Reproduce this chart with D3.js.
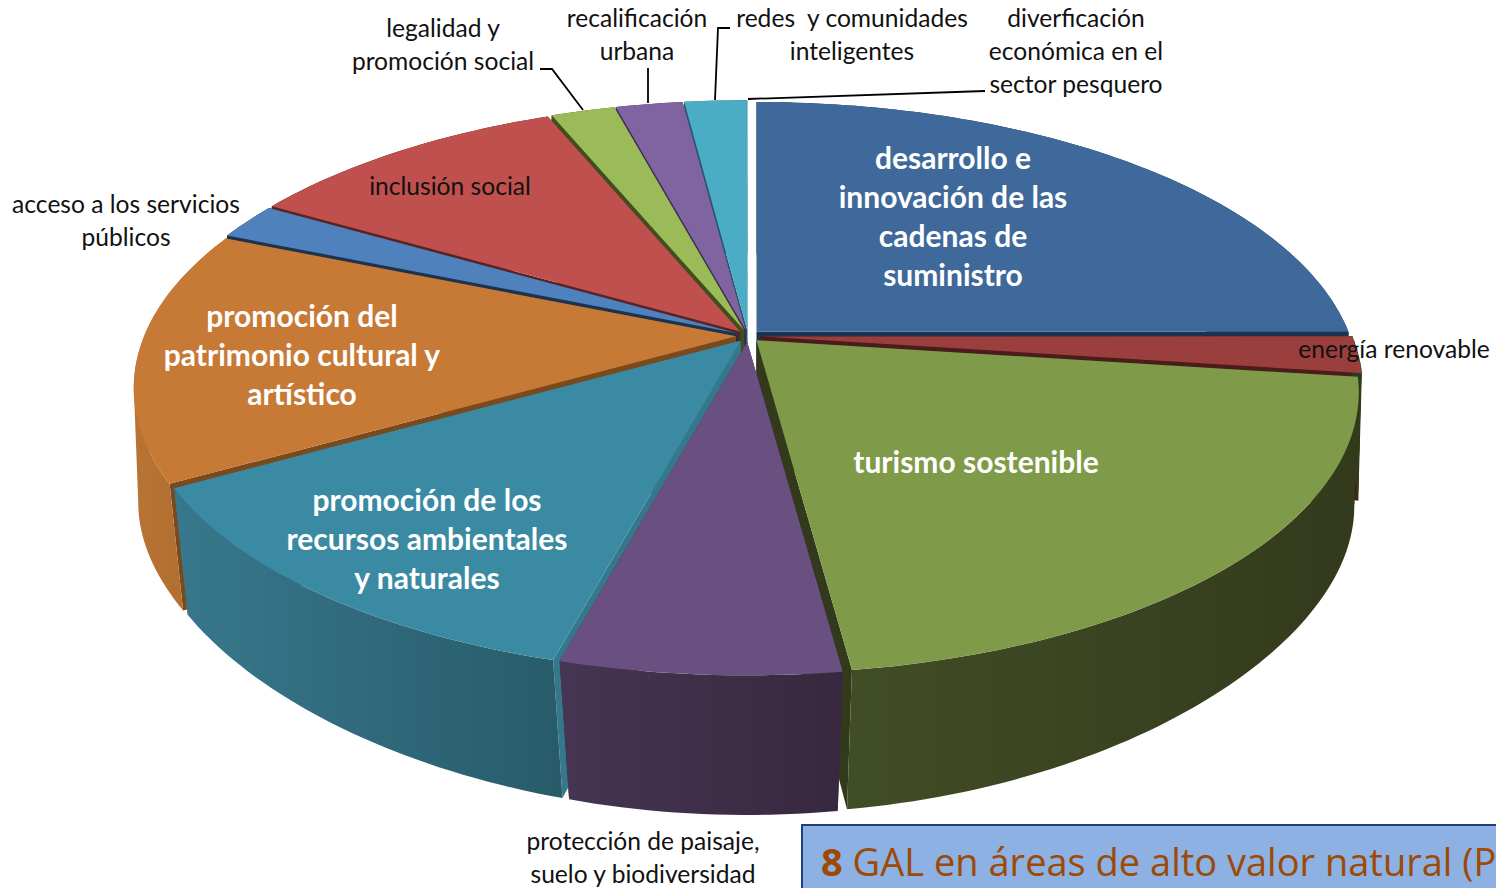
<!DOCTYPE html>
<html lang="es">
<head>
<meta charset="utf-8">
<title>GAL</title>
<script src="https://d3js.org/d3.v7.min.js"></script>
<style>
html, body { margin: 0; padding: 0; background: white; overflow: hidden; }
svg { display: block; }
text { font-family: Lato, sans-serif; }
</style>
</head>
<body>
<svg width="1496" height="888"></svg>
<script>
// clockwise from the top
const categories = [
  "desarrollo e innovación de las cadenas de suministro",
  "energía renovable",
  "turismo sostenible",
  "protección de paisaje, suelo y biodiversidad",
  "promoción de los recursos ambientales y naturales",
  "promoción del patrimonio cultural y artístico",
  "acceso a los servicios públicos",
  "inclusión social",
  "legalidad y promoción social",
  "recalificación urbana",
  "redes y comunidades inteligentes",
  "diverficación económica en el sector pesquero"
];
const values = [25, 2.1, 20.8, 6.3, 12.6, 14.5, 2.1, 10.4, 2.05, 2.15, 2, 0.01];

const topColors = ["#3f699a", "#9a3f3e", "#7f9a48", "#6a5081", "#3b8aa3", "#c77936",
                   "#4f81bd", "#c0504d", "#9bbb59", "#8064a2", "#4bacc6", "#4bacc6"];
const wallColors = ["#1c3350", "#4a1c1c", "#333a1c", "#3a2b47", "#35788c", "#7a4a1d",
                    "#1c3350", "#5c2220", "#3f4f1e", "#3a2b50", "#1f5a6b", "#1f5a6b"];
const sideLeft = ["#1c3350", "#333a1c", "#414d26", "#463553", "#38788c", "#b87433",
                  "#1c3350", "#5c2220", "#3f4f1e", "#3a2b50", "#1f5a6b", "#1f5a6b"];
const sideRight = ["#1c3350", "#333a1c", "#333a1c", "#37283f", "#285c6b", "#ac6a30",
                   "#1c3350", "#5c2220", "#3f4f1e", "#3a2b50", "#1f5a6b", "#1f5a6b"];

const blackLabels = [
  { lines: ["legalidad y", "promoción social"], x: 443, y: 37 },
  { lines: ["recalificación", "urbana"], x: 637, y: 27 },
  { lines: ["redes  y comunidades", "inteligentes"], x: 852, y: 27 },
  { lines: ["diverficación", "económica en el", "sector pesquero"], x: 1076, y: 27 },
  { lines: ["acceso a los servicios", "públicos"], x: 126, y: 213 },
  { lines: ["inclusión social"], x: 450, y: 195 },
  { lines: ["energía renovable"], x: 1394, y: 358 },
  { lines: ["protección de paisaje,", "suelo y biodiversidad"], x: 643, y: 850 }
];
const whiteLabels = [
  { lines: ["desarrollo e", "innovación de las", "cadenas de", "suministro"], x: 953, y: 169 },
  { lines: ["turismo sostenible"], x: 976, y: 473 },
  { lines: ["promoción de los", "recursos ambientales", "y naturales"], x: 427, y: 511 },
  { lines: ["promoción del", "patrimonio cultural y", "artístico"], x: 302, y: 327 }
];
const leaders = [
  [[540, 69], [552, 69], [583, 110]],
  [[648, 68], [648, 103]],
  [[730, 28], [718, 28], [715, 100]],
  [[985, 91], [748, 99]]
];

const svg = d3.select("svg");
const defs = svg.append("defs");

// top disc and bottom disc of the pie, in perspective
const cx = 748, cy = 336;
const R = 592, H = 272, k = 0.184;
const cyBottom = 465, hBottom = 258, kBottomY = 0.25, kBottomX = 0.139;
const explodeX = 12, explodeY = 6;

function project(theta, r, mid, bottom) {
  const u = r * Math.sin(theta), v = r * Math.cos(theta);
  const ox = explodeX * Math.sin(mid), oy = -explodeY * Math.cos(mid);
  if (bottom) {
    return [cx + R * u / (1 + kBottomX * v) + ox,
            cyBottom - hBottom * v / (1 + kBottomY * v) + oy];
  }
  const w = 1 + k * v;
  return [cx + R * u / w + ox, cy - H * v / w + oy];
}

const arcs = d3.pie().sort(null).value(d => d)(values).map((a, i) => {
  a.index = i;
  a.mid = (a.startAngle + a.endAngle) / 2;
  return a;
});

const line = d3.line();

function rim(a, bottom) {
  const n = Math.max(2, Math.ceil((a.endAngle - a.startAngle) / 0.02));
  return d3.range(n + 1).map(j => {
    const t = a.startAngle + (a.endAngle - a.startAngle) * j / n;
    return project(t, 1, a.mid, bottom);
  });
}

// back to front so the nearer slices cover the farther ones
const order = arcs.slice().sort((p, q) => Math.cos(q.mid) - Math.cos(p.mid));

const slices = svg.selectAll("g.slice").data(order).join("g").attr("class", "slice");

slices.each(function (a) {
  const g = d3.select(this);
  const i = a.index;
  const topRim = rim(a, false), botRim = rim(a, true);
  const apexT = project(0, 0, a.mid, false), apexB = project(0, 0, a.mid, true);

  // radial walls
  [0, topRim.length - 1].forEach(e => {
    g.append("path")
      .attr("d", line([apexT, topRim[e], botRim[e], apexB]) + "Z")
      .attr("fill", wallColors[i]);
  });

  // outer wall, one quad per step so the silhouette is filled
  const gradId = "side" + i;
  const xs = topRim.map(p => p[0]);
  const grad = defs.append("linearGradient").attr("id", gradId)
    .attr("gradientUnits", "userSpaceOnUse")
    .attr("x1", d3.min(xs)).attr("x2", d3.max(xs)).attr("y1", 0).attr("y2", 0);
  grad.append("stop").attr("offset", 0).attr("stop-color", sideLeft[i]);
  grad.append("stop").attr("offset", 1).attr("stop-color", sideRight[i]);
  const quads = d3.range(topRim.length - 1).map(j => {
    const q = [topRim[j], topRim[j + 1], botRim[j + 1], botRim[j]];
    // same winding for all, or overlapping quads cancel out
    if (d3.polygonArea(q) < 0) q.reverse();
    return line(q) + "Z";
  }).join("");
  const side = g.append("path")
    .attr("d", quads)
    .attr("fill", "url(#" + gradId + ")");
  // the red wall of the thin right slice would show through at the edge
  if (i === 1) side.attr("stroke", sideRight[i]).attr("stroke-width", 1);

  // top face
  g.append("path")
    .attr("d", line([apexT].concat(topRim)) + "Z")
    .attr("fill", topColors[i])
    .append("title").text(categories[i]);
});

svg.selectAll("path.leader").data(leaders).join("path")
  .attr("class", "leader")
  .attr("d", d => line(d))
  .attr("fill", "none")
  .attr("stroke", "#000")
  .attr("stroke-width", 1.8);

function drawLabels(list, size, lead, color, weight) {
  list.forEach(l => {
    l.lines.forEach((t, j) => {
      svg.append("text")
        .attr("x", l.x)
        .attr("y", l.y + j * lead)
        .attr("text-anchor", "middle")
        .attr("font-size", size)
        .attr("font-weight", weight)
        .attr("fill", color)
        .style("white-space", "pre")
        .text(t);
    });
  });
}
drawLabels(blackLabels, 24.6, 33, "#111", 400);
drawLabels(whiteLabels, 30, 39, "#fff", 700);

// caption box, runs off the page
svg.append("rect")
  .attr("x", 802).attr("y", 825)
  .attr("width", 720).attr("height", 90)
  .attr("fill", "#8db1e2")
  .attr("stroke", "#1f3f80")
  .attr("stroke-width", 2);

const caption = svg.append("text")
  .attr("x", 821).attr("y", 876)
  .attr("font-size", 38)
  .attr("fill", "#9c4a06")
  .style("font-family", "'Open Sans', sans-serif");
caption.append("tspan").attr("font-weight", 700).text("8");
caption.append("tspan").text(" GAL en áreas de alto valor natural (P");
</script>
</body>
</html>
